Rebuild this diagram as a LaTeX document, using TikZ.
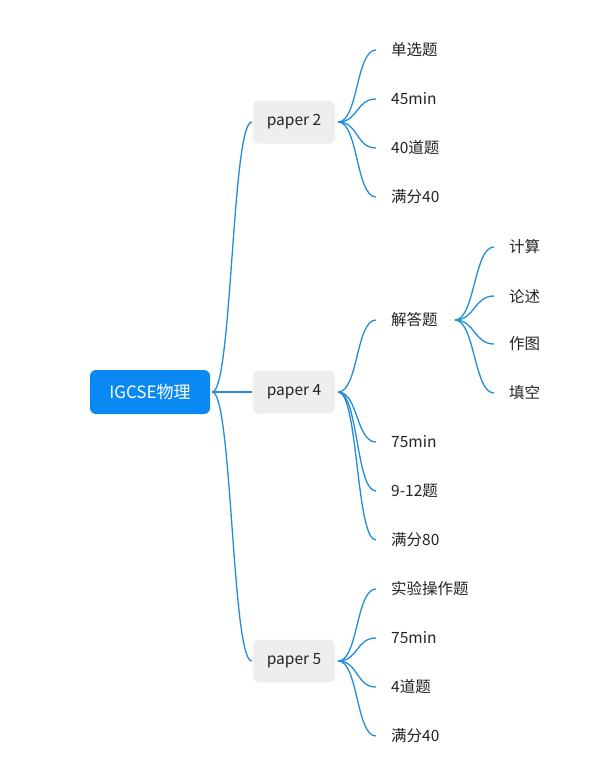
\documentclass[tikz,border=0pt]{standalone}
\usepackage{fontspec}
\setmainfont{Noto Sans CJK SC}
\usepackage{tikz}
\usepackage{xcolor}
\definecolor{rootblue}{RGB}{10,137,242}
\definecolor{linkblue}{RGB}{34,140,218}
\definecolor{papergrey}{RGB}{238,238,238}
\definecolor{textgrey}{RGB}{35,35,35}
\tikzset{
	treenode/.style = {shape=rectangle, rounded corners=6pt, align=center,
		inner sep=0pt},
	rootnode/.style = {treenode, fill=rootblue, text=white,
		minimum width=120pt, minimum height=44pt, font=\fontsize{17}{20}\selectfont},
	paper/.style    = {treenode, fill=papergrey, text=textgrey,
		minimum width=82pt, minimum height=43pt, font=\fontsize{15.5}{18}\selectfont},
	leaf/.style     = {anchor=west, inner xsep=15pt, inner ysep=0pt, text=textgrey,
		font=\fontsize{15.5}{18}\selectfont},
	branch/.style   = {draw=linkblue, line width=1.3pt,
		to path={(\tikztostart) .. controls ([xshift=20pt]\tikztostart)
			and ([xshift=-20pt]\tikztotarget) .. (\tikztotarget)}}
}

\begin{document}
\begin{tikzpicture}[x=1pt,y=-1pt]
\useasboundingbox (0,0) rectangle (600,763);
% main topic and papers
\node [rootnode] (root) at (150,392) {IGCSE物理};
\node [paper] (p2) at (294,122) {paper 2};
\node [paper] (p4) at (294,392) {paper 4};
\node [paper] (p5) at (294,661) {paper 5};
% paper 2
\node [leaf] (p2a) at (376,50)  {单选题};
\node [leaf] (p2b) at (376,99)  {45min};
\node [leaf] (p2c) at (376,148) {40道题};
\node [leaf] (p2d) at (376,197) {满分40};
% paper 4
\node [leaf] (p4a) at (376,320) {解答题};
\node [leaf] (p4b) at (376,442) {75min};
\node [leaf] (p4c) at (376,491) {9-12题};
\node [leaf] (p4d) at (376,540) {满分80};
\node [leaf] (q1) at (494,247) {计算};
\node [leaf] (q2) at (494,296) {论述};
\node [leaf] (q3) at (494,344) {作图};
\node [leaf] (q4) at (494,393) {填空};
% paper 5
\node [leaf] (p5a) at (376,589) {实验操作题};
\node [leaf] (p5b) at (376,638) {75min};
\node [leaf] (p5c) at (376,687) {4道题};
\node [leaf] (p5d) at (376,736) {满分40};
% connectors
\foreach \p in {p2,p4,p5}
	\draw [branch] ([xshift=2pt]root.east) to ([xshift=-1pt]\p.west);
\foreach \p in {p2,p4,p5}
	\foreach \l in {a,b,c,d}
		\draw [branch] ([xshift=3pt]\p.east) to (\p\l.west);
\foreach \l in {q1,q2,q3,q4}
	\draw [branch] ([xshift=2pt]p4a.east) to (\l.west);
\end{tikzpicture}
\end{document}
